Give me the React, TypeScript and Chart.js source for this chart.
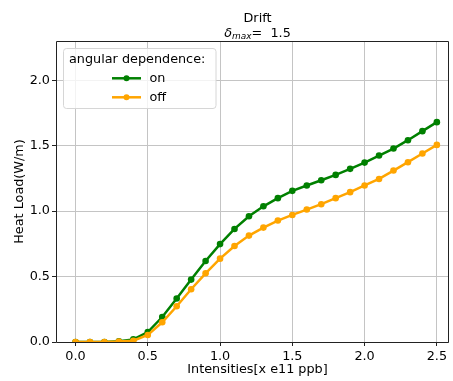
import React, { useEffect, useRef } from "react";
import { Chart, registerables } from "chart.js";
Chart.register(...registerables);

const intensities = [0, 0.1, 0.2, 0.3, 0.4, 0.5, 0.6, 0.7, 0.8, 0.9, 1.0, 1.1, 1.2, 1.3, 1.4, 1.5, 1.6, 1.7, 1.8, 1.9, 2.0, 2.1, 2.2, 2.3, 2.4, 2.5];
const heatLoadOn = [0, 0, 0, 0.005, 0.02, 0.076, 0.191, 0.332, 0.477, 0.619, 0.748, 0.864, 0.961, 1.037, 1.099, 1.155, 1.196, 1.236, 1.277, 1.323, 1.371, 1.425, 1.478, 1.542, 1.611, 1.68];
const heatLoadOff = [0, 0, 0, 0.003, 0.01, 0.054, 0.151, 0.273, 0.403, 0.525, 0.637, 0.734, 0.813, 0.874, 0.928, 0.971, 1.012, 1.053, 1.099, 1.145, 1.196, 1.246, 1.31, 1.374, 1.44, 1.506];
const seriesLabels = ["on", "off"];
const seriesColors = ["#008000", "#ffa500"];
const xTicks = [0, 0.5, 1.0, 1.5, 2.0, 2.5];
const yTicks = [0, 0.5, 1.0, 1.5, 2.0];
const chartTitle = "Drift";
const subtitleSymbol = "δ";
const subtitleSub = "max";
const subtitleRest = "=  1.5";
const legendTitle = "angular dependence:";
const xLabel = "Intensities[x e11 ppb]";
const yLabel = "Heat Load(W/m)";

const FAMILY = '"DejaVu Sans", sans-serif';
const FS = 12.8;
const LW = 2.5;
const PR = 3.3;

const overlay = {
  id: "overlay",
  afterDraw(chart: any) {
    const ctx = chart.ctx as CanvasRenderingContext2D;
    const a = chart.chartArea;
    ctx.save();
    // frame (spines)
    ctx.strokeStyle = "#222";
    ctx.lineWidth = 1;
    ctx.beginPath();
    ctx.moveTo(a.left + 0.5, a.top + 0.5);
    ctx.lineTo(a.right - 0.5, a.top + 0.5);
    ctx.lineTo(a.right - 0.5, a.bottom + 0.5);
    ctx.lineTo(a.left + 0.5, a.bottom + 0.5);
    ctx.closePath();
    ctx.stroke();

    const cx = 257.5;
    ctx.fillStyle = "#000";
    ctx.textBaseline = "alphabetic";
    // title
    ctx.font = `${FS}px ${FAMILY}`;
    ctx.textAlign = "center";
    ctx.fillText(chartTitle, cx, 21.5);
    // subtitle with subscript
    ctx.textAlign = "left";
    ctx.font = `italic ${FS}px ${FAMILY}`;
    const w1 = ctx.measureText(subtitleSymbol).width;
    ctx.font = `italic ${FS * 0.7}px ${FAMILY}`;
    const w2 = ctx.measureText(subtitleSub).width;
    ctx.font = `${FS}px ${FAMILY}`;
    const w3 = ctx.measureText(subtitleRest).width;
    let x0 = cx - (w1 + w2 + w3) / 2;
    const base = 36.5;
    ctx.font = `italic ${FS}px ${FAMILY}`;
    ctx.fillText(subtitleSymbol, x0, base);
    x0 += w1;
    ctx.font = `italic ${FS * 0.7}px ${FAMILY}`;
    ctx.fillText(subtitleSub, x0, base + 2.5);
    x0 += w2;
    ctx.font = `${FS}px ${FAMILY}`;
    ctx.fillText(subtitleRest, x0, base);

    // axis labels
    ctx.textAlign = "center";
    ctx.textBaseline = "middle";
    ctx.fillText(xLabel, cx, 370);
    ctx.save();
    ctx.translate(19.5, (a.top + a.bottom) / 2);
    ctx.rotate(-Math.PI / 2);
    ctx.fillText(yLabel, 0, 0);
    ctx.restore();

    // legend
    const bx = 63.5, by = 48.5, bw = 152.5, bh = 60;
    ctx.beginPath();
    (ctx as any).roundRect(bx, by, bw, bh, 3);
    ctx.fillStyle = "rgba(255,255,255,0.8)";
    ctx.fill();
    ctx.strokeStyle = "#d6d6d6";
    ctx.lineWidth = 1;
    ctx.stroke();
    ctx.fillStyle = "#000";
    ctx.textAlign = "left";
    ctx.font = `${FS}px ${FAMILY}`;
    ctx.fillText(legendTitle, 69, 59.5);
    seriesLabels.forEach((lab, i) => {
      const y = 78.3 + i * 19;
      ctx.strokeStyle = seriesColors[i];
      ctx.lineWidth = LW;
      ctx.beginPath();
      ctx.moveTo(112, y);
      ctx.lineTo(141, y);
      ctx.stroke();
      ctx.fillStyle = seriesColors[i];
      ctx.beginPath();
      ctx.arc(126.5, y, PR - 0.3, 0, Math.PI * 2);
      ctx.fill();
      ctx.fillStyle = "#000";
      ctx.fillText(lab, 149.5, y);
    });
    ctx.restore();
  },
};

export default function App() {
  const ref = useRef<HTMLCanvasElement>(null);
  useEffect(() => {
    document.body.style.margin = "0";
    const canvas = ref.current!;
    const chart = new Chart(canvas, {
      type: "line",
      data: {
        datasets: [
          {
            label: seriesLabels[0],
            data: intensities.map((x, i) => ({ x, y: heatLoadOn[i] })),
            borderColor: seriesColors[0],
            backgroundColor: seriesColors[0],
            pointBackgroundColor: seriesColors[0],
            pointBorderWidth: 0,
            pointRadius: PR,
            borderWidth: LW,
            tension: 0,
            order: 1,
          },
          {
            label: seriesLabels[1],
            data: intensities.map((x, i) => ({ x, y: heatLoadOff[i] })),
            borderColor: seriesColors[1],
            backgroundColor: seriesColors[1],
            pointBackgroundColor: seriesColors[1],
            pointBorderWidth: 0,
            pointRadius: PR,
            borderWidth: LW,
            tension: 0,
            order: 0,
          },
        ],
      },
      options: {
        responsive: false,
        animation: false,
        devicePixelRatio: 1,
        layout: { padding: { top: 41, left: 0, right: 0, bottom: 0 } },
        plugins: { legend: { display: false }, title: { display: false }, tooltip: { enabled: false } },
        scales: {
          x: {
            type: "linear",
            min: -0.135,
            max: 2.584,
            afterFit: (s: any) => { s.height = 39; },
            afterBuildTicks: (s: any) => { s.ticks = xTicks.map((v) => ({ value: v })); },
            grid: { color: "#c4c4c4", lineWidth: 1, tickLength: 4, tickColor: "#222", drawTicks: true },
            border: { display: false },
            ticks: {
              color: "#000",
              padding: 3,
              maxRotation: 0,
              font: { family: FAMILY, size: FS },
              callback: (v: any) => Number(v).toFixed(1),
            },
          },
          y: {
            type: "linear",
            min: 0,
            max: 2.3,
            afterFit: (s: any) => { s.width = 56; },
            afterBuildTicks: (s: any) => { s.ticks = yTicks.map((v) => ({ value: v })); },
            grid: { color: "#c4c4c4", lineWidth: 1, tickLength: 4, tickColor: "#222", drawTicks: true },
            border: { display: false },
            ticks: {
              color: "#000",
              padding: 2,
              font: { family: FAMILY, size: FS },
              callback: (v: any) => Number(v).toFixed(1),
            },
          },
        },
      },
      plugins: [overlay],
    });
    return () => chart.destroy();
  }, []);
  return (
    <div style={{ position: "absolute", left: 0, top: 0, width: 453, height: 381 }}>
      <canvas ref={ref} width={453} height={381} />
    </div>
  );
}
